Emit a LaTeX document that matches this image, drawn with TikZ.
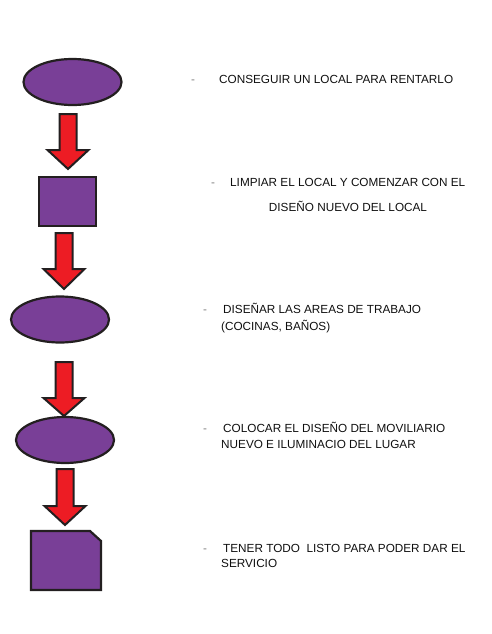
\documentclass[tikz,border=0pt]{standalone}
\usepackage{fontspec}
\setmainfont{Liberation Sans}
\usetikzlibrary{shapes.geometric}
\definecolor{shapepurple}{RGB}{121,63,151}
\definecolor{arrowred}{RGB}{237,28,36}
\definecolor{edgeblack}{RGB}{35,31,32}
\definecolor{txt}{RGB}{15,15,15}
\tikzset{
  shapebox/.style={draw=edgeblack, line width=2.2pt, fill=shapepurple, inner sep=0pt},
  oval/.style={shapebox, ellipse, minimum width=#1, minimum height=46pt},
  label/.style={inner sep=0pt, anchor=base west, text=txt, font=\fontsize{11.75}{13}\selectfont},
  dashmark/.style={inner sep=0pt, anchor=base west, text=gray, font=\fontsize{11.75}{13}\selectfont},
  pics/blockarrow/.style args={#1/#2}{code={
    % origin at top centre; #1 = head start, #2 = tip (both downward distances)
    \draw[draw=edgeblack, line width=2pt, fill=arrowred, line join=miter]
      (-8.5,0) -- (8.5,0) -- (8.5,#1) -- (20.5,#1) -- (0,#2) -- (-20.5,#1) -- (-8.5,#1) -- cycle;
  }}
}
\begin{document}
\begin{tikzpicture}[x=1pt,y=-1pt]
\useasboundingbox (0,0) rectangle (492,634);
% shapes
\node[oval=98pt] (s1) at (72.5,82) {};
\node[shapebox, minimum width=57pt, minimum height=49pt] (s2) at (67.5,201.5) {};
\node[oval=98pt] (s3) at (60,319.5) {};
\node[oval=98pt] (s4) at (65,440) {};
\draw[shapebox] (31,531) -- (90,531) -- (101,541) -- (101,590) -- (31,590) -- cycle;
\coordinate (s5) at (66,560);
% block arrows
\pic at (68,114) {blockarrow=36/55};
\pic at (64,233) {blockarrow=36/56};
\pic at (64,362) {blockarrow=36/54};
\pic at (65,469) {blockarrow=37/56};
% texts
\node[dashmark] (d1) at (191,83) {-};
\node[label] (t1) at (219,83) {CONSEGUIR UN LOCAL PARA RENTARLO};
\node[dashmark] (d2) at (211,186) {-};
\node[label] (t2) at (230,186) {LIMPIAR EL LOCAL Y COMENZAR CON EL};
\node[label, anchor=base] (t2b) at (348,211) {DISEÑO NUEVO DEL LOCAL};
\node[dashmark] (d3) at (203,313) {-};
\node[label] (t3) at (223,313) {DISEÑAR LAS AREAS DE TRABAJO};
\node[label] (t3b) at (221,330) {(COCINAS, BAÑOS)};
\node[dashmark] (d4) at (203,432) {-};
\node[label] (t4) at (223,432) {COLOCAR EL DISEÑO DEL MOVILIARIO};
\node[label] (t4b) at (221,448) {NUEVO E ILUMINACIO DEL LUGAR};
\node[dashmark] (d5) at (203,552) {-};
\node[label] (t5) at (223,552) {TENER TODO\ \ LISTO PARA PODER DAR EL};
\node[label] (t5b) at (221,567) {SERVICIO};
\end{tikzpicture}
\end{document}
